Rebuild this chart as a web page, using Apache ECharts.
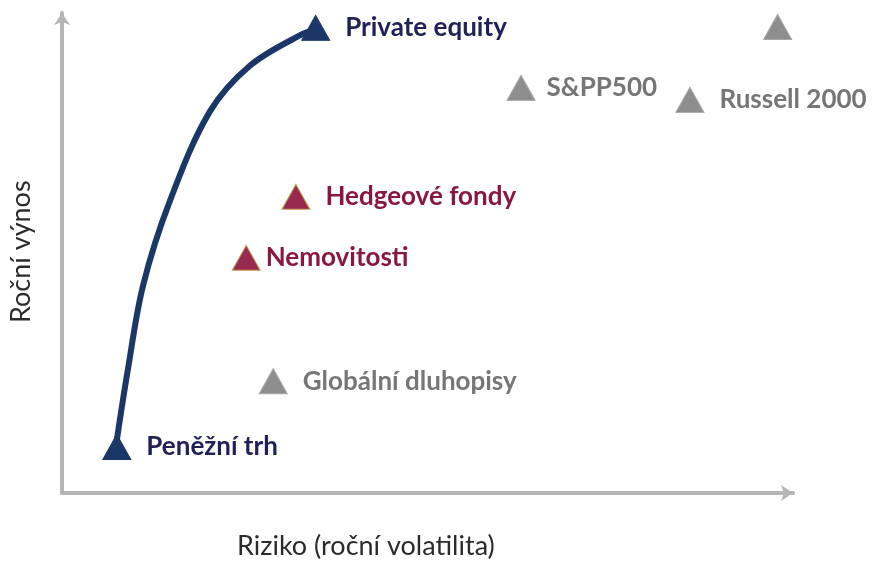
<!DOCTYPE html>
<html>
<head>
<meta charset="utf-8">
<script src="https://cdn.jsdelivr.net/npm/echarts@6/dist/echarts.min.js"></script>
<style>
  html, body { margin: 0; padding: 0; background: #ffffff; }
  #chart { width: 874px; height: 571px; }
</style>
</head>
<body>
<div id="chart"></div>
<script>
// asset classes: risk (x) vs annual return (y), arbitrary 0-100 units
const assetNames = ['Peněžní trh', 'Globální dluhopisy', 'Nemovitosti', 'Hedgeové fondy', 'Private equity', 'S&PP500', 'Russell 2000', '']
const riskValues = [7.5, 28.9, 25.2, 32.0, 34.7, 62.8, 85.9, 97.9]
const returnValues = [9.6, 23.3, 49.0, 61.7, 96.9, 84.4, 81.9, 97.1]
const assetGroups = ['frontier', 'traditional', 'alternative', 'alternative', 'frontier', 'traditional', 'traditional', 'traditional']

// the curved arrow from money market up to private equity
const curveRisk = [7.5, 9.0, 11.1, 14.8, 20.2, 25.7, 32.6, 34.3]
const curveReturn = [11.0, 25.6, 43.3, 61.0, 79.4, 89.0, 95.4, 96.3]

const GROUP_STYLE = {
  frontier: { fill: '#1b3768', border: '#1b3768', text: '#1f2157' },
  alternative: { fill: '#992a4f', border: '#c9a35a', text: '#8a1742' },
  traditional: { fill: '#8e8e8e', border: '#a6a6a6', text: '#767676' }
}
// a few labels sit closer to their marker than the rest
const LABEL_GAP = { 'Nemovitosti': 5, 'S&PP500': 11 }
const AXIS_COLOR = '#b5b5b5'
const FONT = 'Lato, "Open Sans", sans-serif'

const chart = echarts.init(document.getElementById('chart'))

const pointData = assetNames.map((name, i) => {
  const style = GROUP_STYLE[assetGroups[i]]
  return {
    name: name,
    value: [riskValues[i], returnValues[i]],
    itemStyle: { color: style.fill, borderColor: style.border, borderWidth: 1, opacity: 1 },
    label: { color: style.text, distance: LABEL_GAP[name] ?? 15 }
  }
})

chart.setOption({
  animation: false,
  grid: { left: 62, right: 81, top: 13, bottom: 78 },
  xAxis: {
    type: 'value',
    min: 0,
    max: 100,
    axisLine: {
      show: true,
      symbol: ['none', 'arrow'],
      symbolSize: [12, 12],
      lineStyle: { color: AXIS_COLOR, width: 4 }
    },
    axisTick: { show: false },
    axisLabel: { show: false },
    splitLine: { show: false }
  },
  yAxis: {
    type: 'value',
    min: 0,
    max: 100,
    axisLine: {
      show: true,
      symbol: ['none', 'arrow'],
      symbolSize: [12, 12],
      lineStyle: { color: AXIS_COLOR, width: 4 }
    },
    axisTick: { show: false },
    axisLabel: { show: false },
    splitLine: { show: false }
  },
  graphic: [
    {
      type: 'text',
      left: 237,
      top: 533,
      style: {
        text: 'Riziko (roční volatilita)',
        fill: '#2b2b2b',
        font: '27px ' + FONT
      }
    },
    {
      type: 'text',
      x: 8,
      y: 323,
      rotation: Math.PI / 2,
      style: {
        text: 'Roční výnos',
        fill: '#2b2b2b',
        font: '27px ' + FONT
      }
    }
  ],
  series: [
    {
      type: 'line',
      data: curveRisk.map((x, i) => [x, curveReturn[i]]),
      smooth: 0.35,
      showSymbol: false,
      lineStyle: { color: '#1b3768', width: 6 },
      z: 2
    },
    {
      type: 'scatter',
      data: pointData,
      symbol: 'triangle',
      symbolSize: [28, 25],
      itemStyle: { opacity: 1 },
      label: {
        show: true,
        position: 'right',
        formatter: '{b}',
        fontFamily: FONT,
        fontWeight: 'bold',
        fontSize: 26
      },
      z: 3
    }
  ]
})
</script>
</body>
</html>
